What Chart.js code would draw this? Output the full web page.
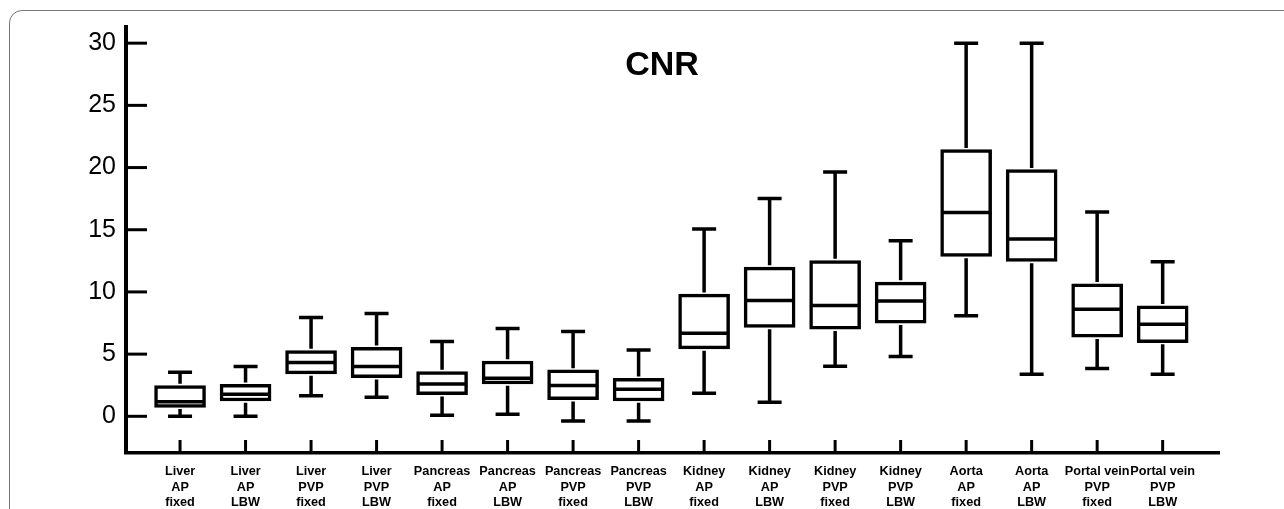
<!DOCTYPE html>
<html>
<head>
<meta charset="utf-8">
<script src="https://cdn.jsdelivr.net/npm/chart.js@4.4.1/dist/chart.umd.min.js"></script>
<style>
    html, body { margin: 0; padding: 0; background: #fff; overflow: hidden; }
    #wrap { position: relative; width: 1284px; height: 509px; }
    #frame {
        position: absolute; left: 9px; top: 10px; width: 1300px; height: 560px;
        border: 1.5px solid #777; border-radius: 13px; box-sizing: border-box;
    }
    canvas { position: absolute; left: 0; top: 0; }
</style>
</head>
<body>
<div id="wrap">
    <div id="frame"></div>
    <canvas id="boxChart" width="1284" height="509"></canvas>
</div>
<script>
// categories (one box per category)
const categories = [
    ['Liver', 'AP', 'fixed'], ['Liver', 'AP', 'LBW'], ['Liver', 'PVP', 'fixed'], ['Liver', 'PVP', 'LBW'],
    ['Pancreas', 'AP', 'fixed'], ['Pancreas', 'AP', 'LBW'], ['Pancreas', 'PVP', 'fixed'], ['Pancreas', 'PVP', 'LBW'],
    ['Kidney', 'AP', 'fixed'], ['Kidney', 'AP', 'LBW'], ['Kidney', 'PVP', 'fixed'], ['Kidney', 'PVP', 'LBW'],
    ['Aorta', 'AP', 'fixed'], ['Aorta', 'AP', 'LBW'], ['Portal vein', 'PVP', 'fixed'], ['Portal vein', 'PVP', 'LBW']
];

// box plot statistics
const whiskerMin = [0.0, 0.0, 1.66, 1.53, 0.08, 0.16, -0.38, -0.38, 1.85, 1.13, 4.02, 4.8, 8.08, 3.38, 3.84, 3.38];
const q1 =         [0.72, 1.23, 3.41, 3.11, 1.74, 2.6, 1.34, 1.23, 5.42, 7.14, 7.0, 7.49, 12.85, 12.45, 6.36, 5.93];
const median =     [1.18, 1.77, 4.32, 4.0, 2.6, 3.06, 2.47, 2.17, 6.68, 9.31, 8.91, 9.28, 16.39, 14.25, 8.61, 7.41];
const q3 =         [2.47, 2.58, 5.29, 5.55, 3.6, 4.45, 3.73, 3.06, 9.82, 12.0, 12.53, 10.79, 21.44, 19.83, 10.65, 8.88];
const whiskerMax = [3.55, 4.0, 7.94, 8.26, 6.01, 7.06, 6.82, 5.34, 15.05, 17.52, 19.64, 14.11, 30.0, 30.0, 16.42, 12.42];

const yTicks = [0, 5, 10, 15, 20, 25, 30];
const chartTitle = 'CNR';

const positions = categories.map((c, i) => i + 1);

// whiskers, caps, medians, inside tick marks and the title
const boxPlotExtras = {
    id: 'boxPlotExtras',
    afterDatasetsDraw(chart) {
        const ctx = chart.ctx;
        const x = chart.scales.x;
        const y = chart.scales.y;
        const area = chart.chartArea;
        ctx.save();
        ctx.strokeStyle = '#000';
        ctx.lineCap = 'butt';

        positions.forEach((p, i) => {
            const cx = x.getPixelForValue(p);
            const yMin = y.getPixelForValue(whiskerMin[i]);
            const yMax = y.getPixelForValue(whiskerMax[i]);
            const yQ1 = y.getPixelForValue(q1[i]);
            const yQ3 = y.getPixelForValue(q3[i]);
            const yMed = y.getPixelForValue(median[i]);

            ctx.lineWidth = 3.5;
            ctx.beginPath();
            ctx.moveTo(cx, yQ3 - 1.75); ctx.lineTo(cx, yMax);
            ctx.moveTo(cx, yQ1 + 1.75); ctx.lineTo(cx, yMin);
            ctx.moveTo(cx - 12, yMax); ctx.lineTo(cx + 12, yMax);
            ctx.moveTo(cx - 12, yMin); ctx.lineTo(cx + 12, yMin);
            ctx.moveTo(cx - 24, yMed); ctx.lineTo(cx + 24, yMed);
            ctx.stroke();

            // x tick marks pointing up into the plot
            ctx.lineWidth = 3;
            ctx.beginPath();
            ctx.moveTo(cx, area.bottom); ctx.lineTo(cx, area.bottom - 13);
            ctx.stroke();
        });

        // y tick marks pointing right into the plot
        ctx.lineWidth = 3;
        yTicks.forEach(t => {
            const ty = y.getPixelForValue(t);
            ctx.beginPath();
            ctx.moveTo(area.left, ty); ctx.lineTo(area.left + 21, ty);
            ctx.stroke();
        });

        ctx.fillStyle = '#000';
        ctx.font = 'bold 34px "Liberation Sans", Arial, sans-serif';
        ctx.textAlign = 'center';
        ctx.textBaseline = 'middle';
        ctx.fillText(chartTitle, 662, 66);
        ctx.restore();
    }
};

new Chart(document.getElementById('boxChart').getContext('2d'), {
    type: 'bar',
    data: {
        datasets: [{
            label: chartTitle,
            data: positions.map((p, i) => ({ x: p, y: [q1[i], q3[i]] })),
            backgroundColor: '#fff',
            borderColor: '#000',
            borderWidth: 3.5,
            borderSkipped: false,
            barThickness: 51
        }]
    },
    options: {
        responsive: false,
        animation: false,
        events: [],
        layout: { padding: { top: 27, right: 65, left: 0, bottom: 0 } },
        plugins: {
            legend: { display: false },
            title: { display: false },
            tooltip: { enabled: false }
        },
        scales: {
            x: {
                type: 'linear',
                offset: false,
                min: 0.175,
                max: 16.86,
                afterBuildTicks: scale => { scale.ticks = positions.map(v => ({ value: v })); },
                afterFit: scale => { scale.height = 56; },
                grid: { display: false, drawTicks: false, offset: false },
                border: { display: true, color: '#000', width: 3.5 },
                ticks: {
                    autoSkip: false,
                    maxRotation: 0,
                    padding: 11,
                    color: '#000',
                    font: { family: '"Liberation Sans", Arial, sans-serif', size: 12.7, weight: 'bold', lineHeight: 1.22 },
                    callback: value => categories[value - 1]
                }
            },
            y: {
                min: -2.95,
                max: 31.3,
                afterBuildTicks: scale => { scale.ticks = yTicks.map(v => ({ value: v })); },
                afterFit: scale => { scale.width = 126; },
                grid: { display: false, drawTicks: false },
                border: { display: true, color: '#000', width: 4 },
                ticks: {
                    padding: 10,
                    color: '#000',
                    font: { family: '"Liberation Sans", Arial, sans-serif', size: 25 }
                }
            }
        }
    },
    plugins: [boxPlotExtras]
});
</script>
</body>
</html>
